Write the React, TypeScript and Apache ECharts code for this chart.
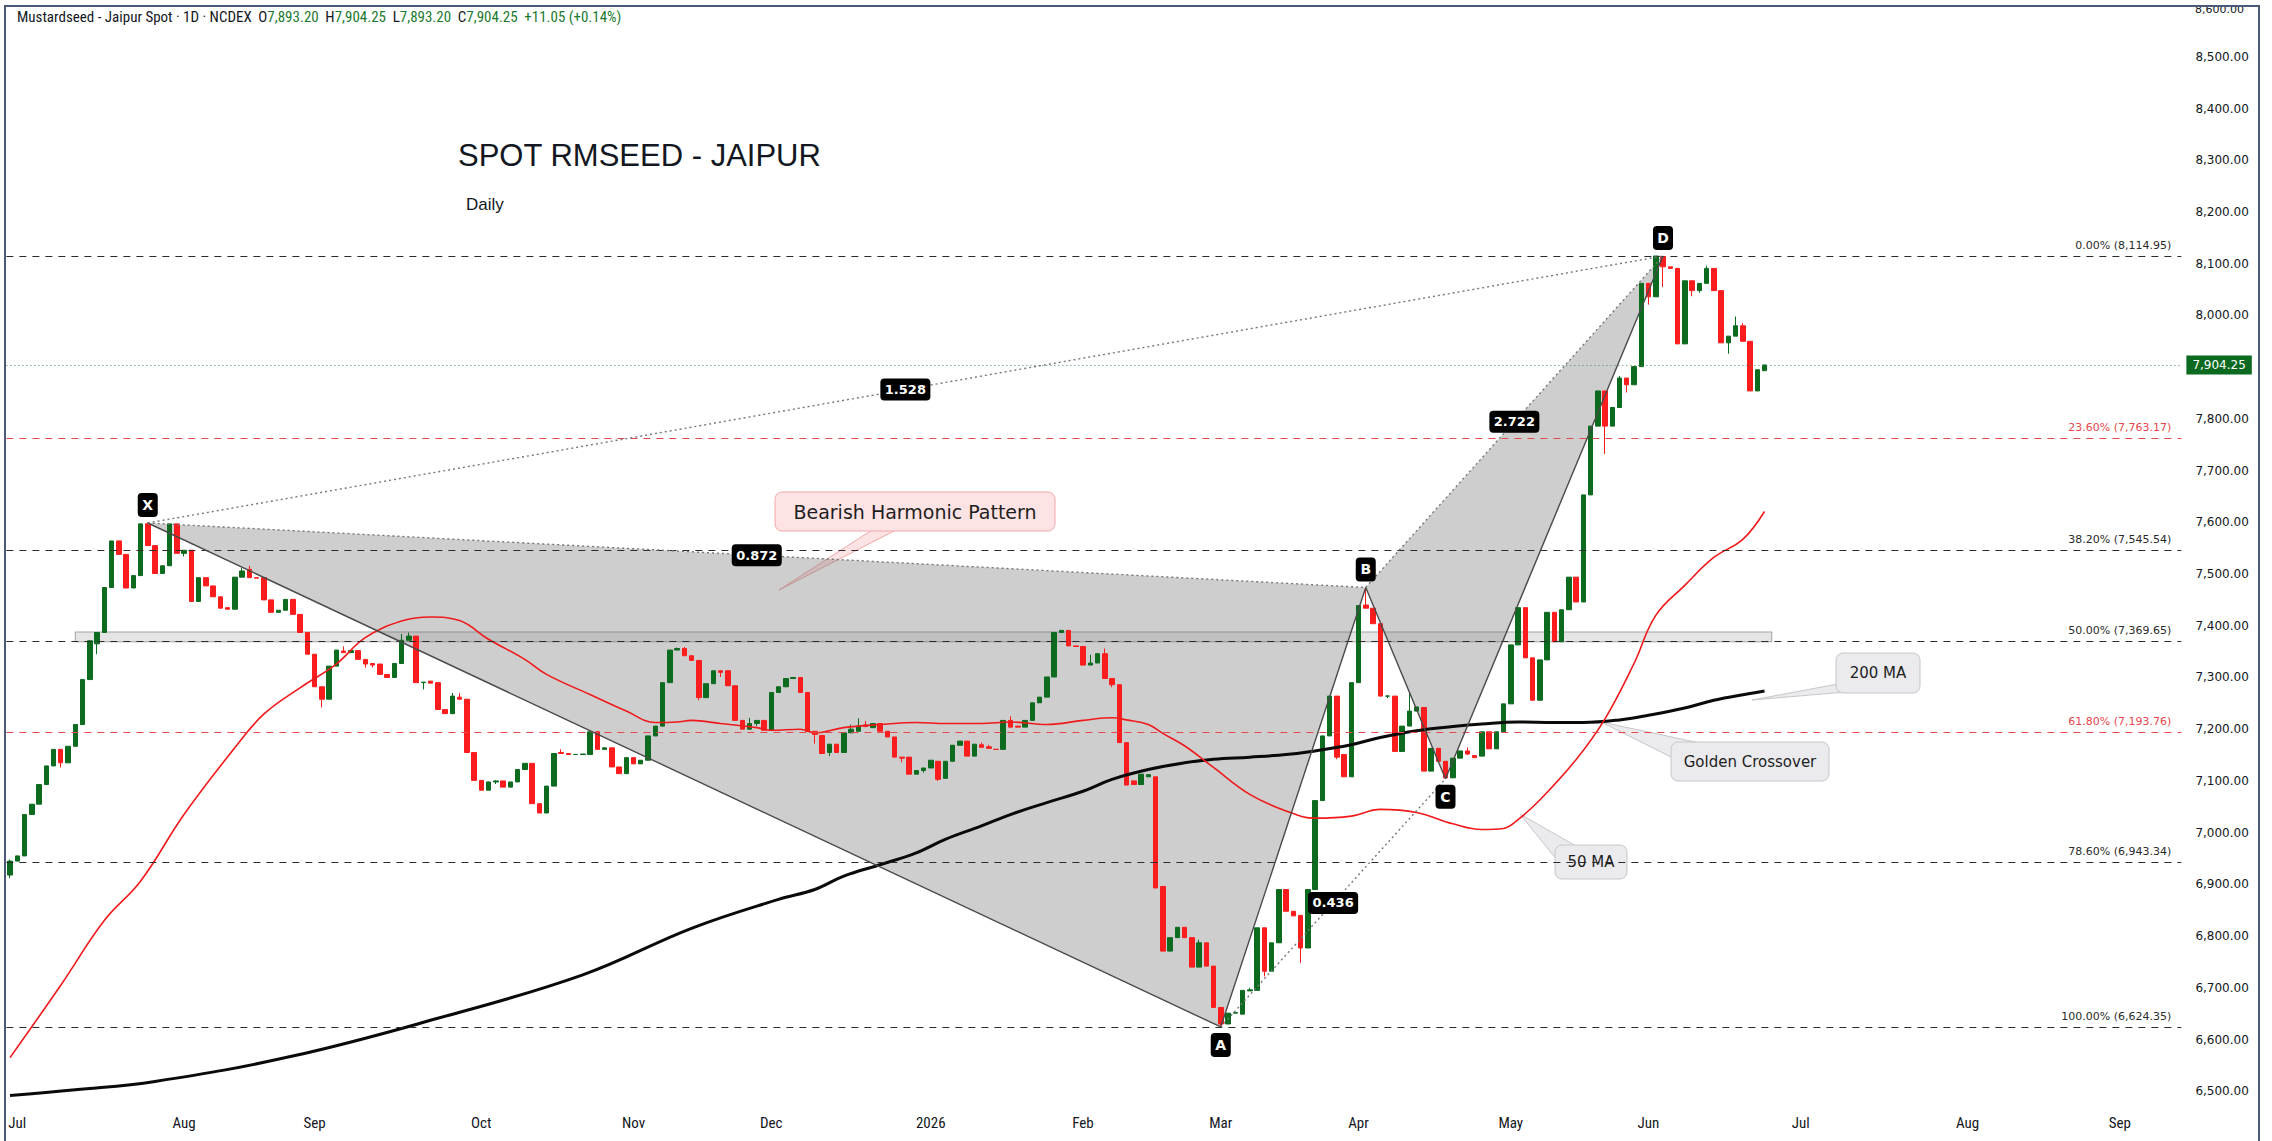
import React, { useEffect, useRef } from 'react';
import * as echarts from 'echarts';

// ---------- DATA ----------
// daily candles [open, close, low?, high?]; low/high omitted when no wick
const candles: number[][] = [
  [6918,6945,6912,6948],[6945,6955],[6955,7035],[7035,7055],[7055,7093],[7093,7129],[7129,7161],
  [7161,7135,7126,7161],[7135,7167],[7167,7209],[7209,7296],[7296,7371],[7365,7387,7345,7387],
  [7387,7474],[7474,7564],[7564,7538],[7538,7473],[7473,7497],[7497,7597],[7597,7555,7555,7600],
  [7555,7501],[7501,7516],[7516,7597],[7597,7540],
  // Aug
  [7540,7546,7534,7546],[7546,7447],[7447,7493],[7493,7477],[7477,7456],[7456,7434],[7435,7432],
  [7432,7494],[7494,7506,7494,7512],[7509,7493,7493,7516],[7493,7492],[7493,7450],[7450,7426],
  [7426,7430],[7430,7451],[7451,7422],[7422,7387],[7387,7345],
  // Sep
  [7345,7282],[7282,7258,7242,7282],[7258,7322],[7322,7353],[7351,7348,7348,7360],[7348,7352],
  [7352,7335],[7335,7326,7319,7335],[7327,7324,7319,7327],[7326,7306],[7306,7300],[7300,7327],
  [7327,7372,7327,7384],[7372,7380,7372,7387],[7380,7290],[7290,7291,7277,7291],[7293,7289],
  [7290,7238],[7238,7230],[7230,7264,7230,7270],[7262,7258,7258,7270],[7258,7155],[7155,7101],
  // Oct
  [7101,7082],[7082,7098],[7098,7100,7094,7101],[7100,7088],[7088,7098],[7098,7122],[7122,7134],
  [7134,7056],[7056,7038],[7038,7090],[7090,7153],[7155,7153,7153,7161],[7153,7151],[7151,7151],
  [7151,7152],[7151,7195],[7195,7161],[7161,7164],[7164,7127],[7127,7114],[7114,7145],
  // Nov
  [7145,7133],[7133,7140],[7140,7187],[7187,7206],[7206,7290],[7290,7353],[7353,7356,7353,7358],
  [7356,7342,7342,7359],[7342,7333],[7333,7261,7256,7333],[7261,7288],[7288,7313],
  [7313,7310,7301,7313],[7313,7284],[7284,7217],[7217,7200],[7200,7211,7200,7222],
  [7211,7217,7206,7217],[7217,7198],
  // Dec
  [7198,7271],[7271,7282],[7282,7298],[7298,7300],[7300,7271],[7271,7196],[7196,7190,7172,7196],
  [7188,7153],[7155,7171,7148,7171],[7171,7155],[7155,7193],[7193,7200,7193,7209],
  [7196,7206,7196,7221],[7208,7205,7205,7216],[7203,7211],[7211,7196],[7196,7185],[7185,7146],
  [7146,7144,7136,7146],[7146,7113],[7113,7120],[7120,7125,7116,7125],
  // Jan 2026
  [7125,7140],[7138,7103,7100,7138],[7105,7138],[7138,7169],[7169,7177],[7177,7148],[7148,7171],
  [7170,7165,7165,7174],[7166,7163,7163,7170],[7161,7161],[7161,7217],[7217,7204,7204,7225],
  [7206,7204],[7204,7217],[7217,7251],[7251,7262],[7262,7301],[7301,7387],[7387,7391],
  [7391,7361],[7361,7360],
  // Feb
  [7360,7324],[7324,7328,7324,7344],[7328,7346],[7346,7298,7298,7356],[7298,7286,7281,7298],
  [7286,7174],[7174,7092],[7100,7093],[7093,7113],[7108,7112],[7108,6893],[6896,6771],
  [6771,6797],[6797,6817],[6817,6797],[6797,6740],[6740,6787,6740,6793],[6787,6742],[6742,6662],
  // Mar
  [6662,6630,6624.35,6662],[6630,6651],[6651,6652],[6649,6695],[6694,6696,6694,6700],[6695,6816],
  [6816,6732,6722,6816],[6732,6787],[6787,6890],[6890,6848],[6848,6839],[6840,6777,6748,6840],
  [6777,6890],[6890,7062],[7062,7187],[7187,7264],[7264,7146,7142,7264],[7151,7108],[7108,7290],
  // Apr
  [7290,7439],[7440,7434,7434,7474],[7434,7404],[7404,7264],[7264,7264,7260,7266],[7264,7157],
  [7157,7206],[7206,7235,7206,7271],[7235,7243],[7242,7119],[7119,7163],[7163,7138],
  [7138,7106,7104,7138],[7106,7144],[7144,7158],[7158,7152,7150,7165],[7149,7145],[7148,7195],
  [7195,7162],[7162,7195],
  // May
  [7195,7249],[7249,7363],[7363,7435],[7435,7338],[7338,7256],[7256,7334],[7334,7426],
  [7426,7369],[7369,7431],[7431,7494],[7494,7446],[7446,7653],[7653,7786],[7786,7854],
  [7854,7786,7732,7854],[7786,7822],[7822,7879,7822,7883],[7879,7866,7851,7879],[7866,7901],
  // Jun
  [7901,8062],[8062,8036,8021,8062],[8036,8114.95],[8114,8094,8055,8114],[8094,8091],[8091,7945],
  [7945,8067],[8067,8048,8037,8067],[8048,8062,8044,8062],[8062,8091,8062,8096],[8091,8048],
  [8048,7947],[7947,7960,7926,7960],[7960,7980,7960,7998],[7980,7950,7950,7985],[7950,7854],
  [7854,7895],[7893.2,7904.25],
];

// month labels: [bar index, label]
const monthTicks: [number, string][] = [
  [1,'Jul'],[24,'Aug'],[42,'Sep'],[65,'Oct'],[86,'Nov'],[105,'Dec'],[127,'2026'],[148,'Feb'],
  [167,'Mar'],[186,'Apr'],[207,'May'],[226,'Jun'],[247,'Jul'],[270,'Aug'],[291,'Sep'],
];
const totalSlots = 300;

// moving averages: [bar index, value]
const ma50: number[][] = [
  [0,6565],[7,6705],[13,6830],[18,6906],[24,7035],[31,7164],[35,7229],[40,7280],[45,7326],[49,7377],
  [54,7409],[58,7417],[62,7410],[66,7374],[71,7335],[74,7306],[80,7267],[85,7235],[89,7213],[92,7214],
  [94,7217],[98,7211],[103,7203],[105,7198],[109,7200],[111,7193],[115,7203],[120,7209],[125,7213],
  [129,7211],[134,7211],[138,7214],[143,7209],[148,7217],[152,7222],[154,7218],[157,7209],[159,7192],
  [162,7168],[166,7126],[171,7074],[176,7042],[180,7028],[185,7032],[189,7045],[194,7039],[199,7017],
  [203,7006],[206,7008],[208,7025],[211,7063],[216,7141],[220,7220],[224,7327],[227,7420],[231,7478],
  [235,7532],[239,7567],[242,7621],
];
const ma200: number[][] = [
  [0,6492],[9,6503],[20,6519],[39,6568],[59,6641],[79,6725],[94,6815],[106,6871],[111,6890],
  [115,6916],[120,6938],[125,6961],[129,6987],[134,7013],[138,7035],[143,7058],[148,7080],[152,7103],
  [157,7122],[162,7135],[166,7142],[171,7146],[176,7151],[180,7158],[185,7170],[189,7184],[194,7197],
  [199,7205],[203,7210],[208,7214],[213,7213],[217,7213],[222,7218],[226,7227],[231,7241],[235,7256],
  [240,7269],[242,7274],
];

// harmonic pattern X A B C D
const patternLabels = ['X','A','B','C','D'];
const patternIdx = [19, 167, 187, 198, 228];
const patternVals = [7598.7, 6624.35, 7474, 7104, 8114.95];
const ratioLabels = ['0.872', '1.528', '0.436', '2.722'];
const ratioPairs = [[0, 2], [0, 4], [1, 3], [2, 4]];

// fibonacci retracement
const fibPct = ['0.00%', '23.60%', '38.20%', '50.00%', '61.80%', '78.60%', '100.00%'];
const fibValues = [8114.95, 7763.17, 7545.54, 7369.65, 7193.76, 6943.34, 6624.35];

// support band
const bandIdx = [9, 243];
const bandVals = [7369, 7388];

const lastPrice = 7904.25;
const yTicks = [6500,6600,6700,6800,6900,7000,7100,7200,7300,7400,7500,7600,7700,7800,7900,8000,8100,8200,8300,8400,8500];
const clippedTopTick = 8600;

// ---------- HELPERS ----------
const fmt = (v: number) =>
  v.toLocaleString('en-US', { minimumFractionDigits: 2, maximumFractionDigits: 2 });

const UP = '#0c6b1f';
const DOWN = '#fb1d1d';
const AXIS_FONT = "'DejaVu Sans', Verdana, sans-serif";
const NARROW = "'Liberation Sans Narrow', 'Roboto Condensed', Roboto, sans-serif";

function callout(
  box: { x: number; y: number; w: number; h: number },
  wedge: number[][],
  text: string,
  fill: string,
  stroke: string,
  fontSize: number
) {
  return {
    type: 'group',
    silent: true,
    z: 50,
    children: [
      { type: 'polygon', shape: { points: wedge }, style: { fill, stroke, lineWidth: 1 } },
      {
        type: 'rect',
        shape: { x: box.x, y: box.y, width: box.w, height: box.h, r: 7 },
        style: { fill, stroke, lineWidth: 1 },
      },
      {
        type: 'text',
        x: box.x + box.w / 2,
        y: box.y + box.h / 2,
        style: {
          text,
          fill: '#1e1e1e',
          fontSize,
          fontFamily: AXIS_FONT,
          align: 'center',
          verticalAlign: 'middle',
          textAlign: 'center',
          textVerticalAlign: 'middle',
        },
      },
    ],
  };
}

export default function App() {
  const ref = useRef<HTMLDivElement>(null);

  useEffect(() => {
    if (!ref.current) return;
    const chart = echarts.init(ref.current, undefined, { renderer: 'svg' });

    const ohlc = candles.map(([o, c, l, h]) => [
      o,
      c,
      l === undefined ? Math.min(o, c) : l,
      h === undefined ? Math.max(o, c) : h,
    ]);
    const tickMap = new Map<number, string>(monthTicks);
    const cats = Array.from({ length: totalSlots }, (_, i) => String(i));

    const fibLines = fibValues.map((v, k) => {
      const red = fibPct[k] === '23.60%' || fibPct[k] === '61.80%';
      const color = red ? '#e5484d' : '#2b2b2b';
      return {
        yAxis: v,
        lineStyle: { color, type: [7, 6], width: 1 },
        label: {
          show: true,
          position: 'insideEndTop',
          formatter: `${fibPct[k]} (${fmt(v)})`,
          color,
          fontSize: 11,
          fontFamily: AXIS_FONT,
          distance: [10, 5],
        },
      };
    });

    const fillSeries = {
      type: 'custom',
      z: 1,
      silent: true,
      data: [[0, 7000]],
      renderItem: (_p: any, api: any) => {
        const P = patternIdx.map((ix, k) => api.coord([ix, patternVals[k]]));
        const b0 = api.coord([bandIdx[0], bandVals[1]]);
        const b1 = api.coord([bandIdx[1], bandVals[0]]);
        return {
          type: 'group',
          children: [
            { type: 'polygon', shape: { points: [P[0], P[1], P[2]] }, style: { fill: 'rgba(110,110,110,0.34)' } },
            { type: 'polygon', shape: { points: [P[2], P[3], P[4]] }, style: { fill: 'rgba(110,110,110,0.34)' } },
            {
              type: 'rect',
              shape: { x: b0[0], y: b0[1], width: b1[0] - b0[0], height: b1[1] - b0[1] },
              style: { fill: 'rgba(150,150,150,0.25)', stroke: 'rgba(110,110,110,0.6)', lineWidth: 1 },
            },
          ],
        };
      },
    };

    const drawSeries = {
      type: 'custom',
      z: 6,
      silent: true,
      data: [[0, 7000]],
      renderItem: (_p: any, api: any) => {
        const P = patternIdx.map((ix, k) => api.coord([ix, patternVals[k]]));
        const solid = { stroke: '#4a4a4a', lineWidth: 1.4 };
        const dotted = { stroke: '#777777', lineWidth: 1.4, lineDash: [2, 3] };
        const seg = (a: number[], b: number[], st: any) => ({
          type: 'line',
          shape: { x1: a[0], y1: a[1], x2: b[0], y2: b[1] },
          style: st,
        });
        const children: any[] = [
          seg(P[0], P[1], solid), seg(P[1], P[2], solid), seg(P[2], P[3], solid), seg(P[3], P[4], solid),
          seg(P[0], P[2], dotted), seg(P[2], P[4], dotted), seg(P[0], P[4], dotted), seg(P[1], P[3], dotted),
        ];
        ratioPairs.forEach(([a, b], k) => {
          const mx = (P[a][0] + P[b][0]) / 2;
          const my = (P[a][1] + P[b][1]) / 2;
          const w = 50, h = 22;
          children.push({
            type: 'rect',
            shape: { x: mx - w / 2, y: my - h / 2, width: w, height: h, r: 4 },
            style: { fill: '#000000' },
          });
          children.push({
            type: 'text',
            x: mx,
            y: my,
            style: {
              text: ratioLabels[k], fill: '#ffffff', fontSize: 13, fontWeight: 'bold', fontFamily: AXIS_FONT,
              align: 'center', verticalAlign: 'middle', textAlign: 'center', textVerticalAlign: 'middle',
            },
          });
        });
        patternLabels.forEach((lb, k) => {
          const [px, py] = P[k];
          const w = 20, h = 24, gap = 6;
          const up = k % 2 === 0;
          const cy = up ? py - gap - h / 2 : py + gap + h / 2;
          children.push({
            type: 'rect',
            shape: { x: px - w / 2, y: cy - h / 2, width: w, height: h, r: 4 },
            style: { fill: '#000000' },
          });
          children.push({
            type: 'text',
            x: px,
            y: cy,
            style: {
              text: lb, fill: '#ffffff', fontSize: 14, fontWeight: 'bold', fontFamily: AXIS_FONT,
              align: 'center', verticalAlign: 'middle', textAlign: 'center', textVerticalAlign: 'middle',
            },
          });
        });
        return { type: 'group', children };
      },
    };

    const option: any = {
      animation: false,
      backgroundColor: '#ffffff',
      grid: { left: 6.375, right: 90.625, top: 6, bottom: 36, containLabel: false },
      xAxis: {
        type: 'category',
        data: cats,
        boundaryGap: true,
        axisLine: { show: false },
        axisTick: { show: false },
        splitLine: { show: false },
        axisLabel: {
          interval: (i: number) => tickMap.has(i),
          formatter: (_v: string, i: number) => tickMap.get(i) ?? '',
          color: '#131722',
          fontSize: 15,
          fontFamily: NARROW,
          margin: 10,
        },
      },
      yAxis: {
        type: 'value',
        position: 'right',
        min: 6473.4,
        max: 8598.3,
        scale: true,
        splitLine: { show: false },
        axisLine: { show: false },
        axisTick: { show: false },
        axisLabel: {
          customValues: yTicks,
          formatter: (v: number) => fmt(v),
          color: '#131722',
          fontSize: 12,
          fontFamily: AXIS_FONT,
          margin: 14,
        },
      },
      series: [
        fillSeries,
        {
          type: 'candlestick',
          z: 3,
          barWidth: 5,
          data: ohlc,
          itemStyle: {
            color: UP,
            color0: DOWN,
            borderColor: UP,
            borderColor0: DOWN,
            borderWidth: 1,
          },
          markLine: {
            silent: true,
            symbol: ['none', 'none'],
            animation: false,
            data: [
              ...fibLines,
              {
                yAxis: lastPrice,
                lineStyle: { color: '#3f8a4a', type: [1, 3], width: 1 },
                label: {
                  show: true,
                  position: 'end',
                  formatter: fmt(lastPrice),
                  color: '#ffffff',
                  backgroundColor: '#0b6a1f',
                  padding: [4, 6, 3, 6],
                  fontSize: 12,
                  fontFamily: AXIS_FONT,
                  distance: 5,
                },
              },
            ],
          },
        },
        {
          type: 'line',
          z: 4,
          data: ma200,
          smooth: 0.4,
          showSymbol: false,
          symbol: 'none',
          silent: true,
          lineStyle: { color: '#0a0a0a', width: 3 },
        },
        {
          type: 'line',
          z: 4,
          data: ma50,
          smooth: 0.4,
          showSymbol: false,
          symbol: 'none',
          silent: true,
          lineStyle: { color: '#f0191b', width: 1.6 },
        },
        drawSeries,
      ],
      graphic: [
        {
          type: 'rect',
          silent: true,
          z: 100,
          shape: { x: 5, y: 6, width: 2254, height: 1150 },
          style: { fill: 'transparent', stroke: '#4b5a78', lineWidth: 2 },
        },
        {
          type: 'text',
          x: 2195,
          y: 9,
          z: 60,
          silent: true,
          style: {
            text: fmt(clippedTopTick),
            fill: '#131722',
            fontSize: 11,
            fontFamily: AXIS_FONT,
            verticalAlign: 'middle',
            textVerticalAlign: 'middle',
          },
        },
        {
          type: 'text',
          x: 17,
          y: 17,
          z: 60,
          silent: true,
          style: {
            text:
              '{a|Mustardseed - Jaipur Spot · 1D · NCDEX}  {a|O}{g|7,893.20}  {a|H}{g|7,904.25}  {a|L}{g|7,893.20}  {a|C}{g|7,904.25}  {g|+11.05 (+0.14%)}',
            rich: {
              a: { fill: '#131722', fontSize: 15, fontFamily: NARROW },
              g: { fill: '#1c7a30', fontSize: 15, fontFamily: NARROW },
            },
            verticalAlign: 'middle',
            textVerticalAlign: 'middle',
          },
        },
        {
          type: 'text',
          x: 458,
          y: 155,
          z: 60,
          silent: true,
          style: {
            text: 'SPOT RMSEED - JAIPUR',
            fill: '#131722',
            fontSize: 31,
            fontFamily: "'Liberation Sans', Arial, sans-serif",
            verticalAlign: 'middle',
            textVerticalAlign: 'middle',
          },
        },
        {
          type: 'text',
          x: 466,
          y: 204,
          z: 60,
          silent: true,
          style: {
            text: 'Daily',
            fill: '#131722',
            fontSize: 17,
            fontFamily: "'Liberation Sans', Arial, sans-serif",
            verticalAlign: 'middle',
            textVerticalAlign: 'middle',
          },
        },
        callout({ x: 775, y: 492, w: 280, h: 39 }, [[872, 530], [896, 530], [779, 590]],
          'Bearish Harmonic Pattern', '#fde3e3', '#f0a8a8', 19),
        callout({ x: 1836, y: 653, w: 84, h: 40 }, [[1752, 700], [1838, 684], [1846, 692]],
          '200 MA', '#ebebee', '#c6c6cb', 15),
        callout({ x: 1671, y: 742, w: 158, h: 39 }, [[1601, 722], [1673, 758], [1700, 743]],
          'Golden Crossover', '#ebebee', '#c6c6cb', 15),
        callout({ x: 1555, y: 845, w: 72, h: 34 }, [[1520, 814], [1557, 860], [1576, 846]],
          '50 MA', '#ebebee', '#c6c6cb', 15),
      ],
    };

    chart.setOption(option);
    return () => chart.dispose();
  }, []);

  return (
    <div
      ref={ref}
      style={{ position: 'fixed', left: 0, top: 0, width: 2272, height: 1141, background: '#fff' }}
    />
  );
}
